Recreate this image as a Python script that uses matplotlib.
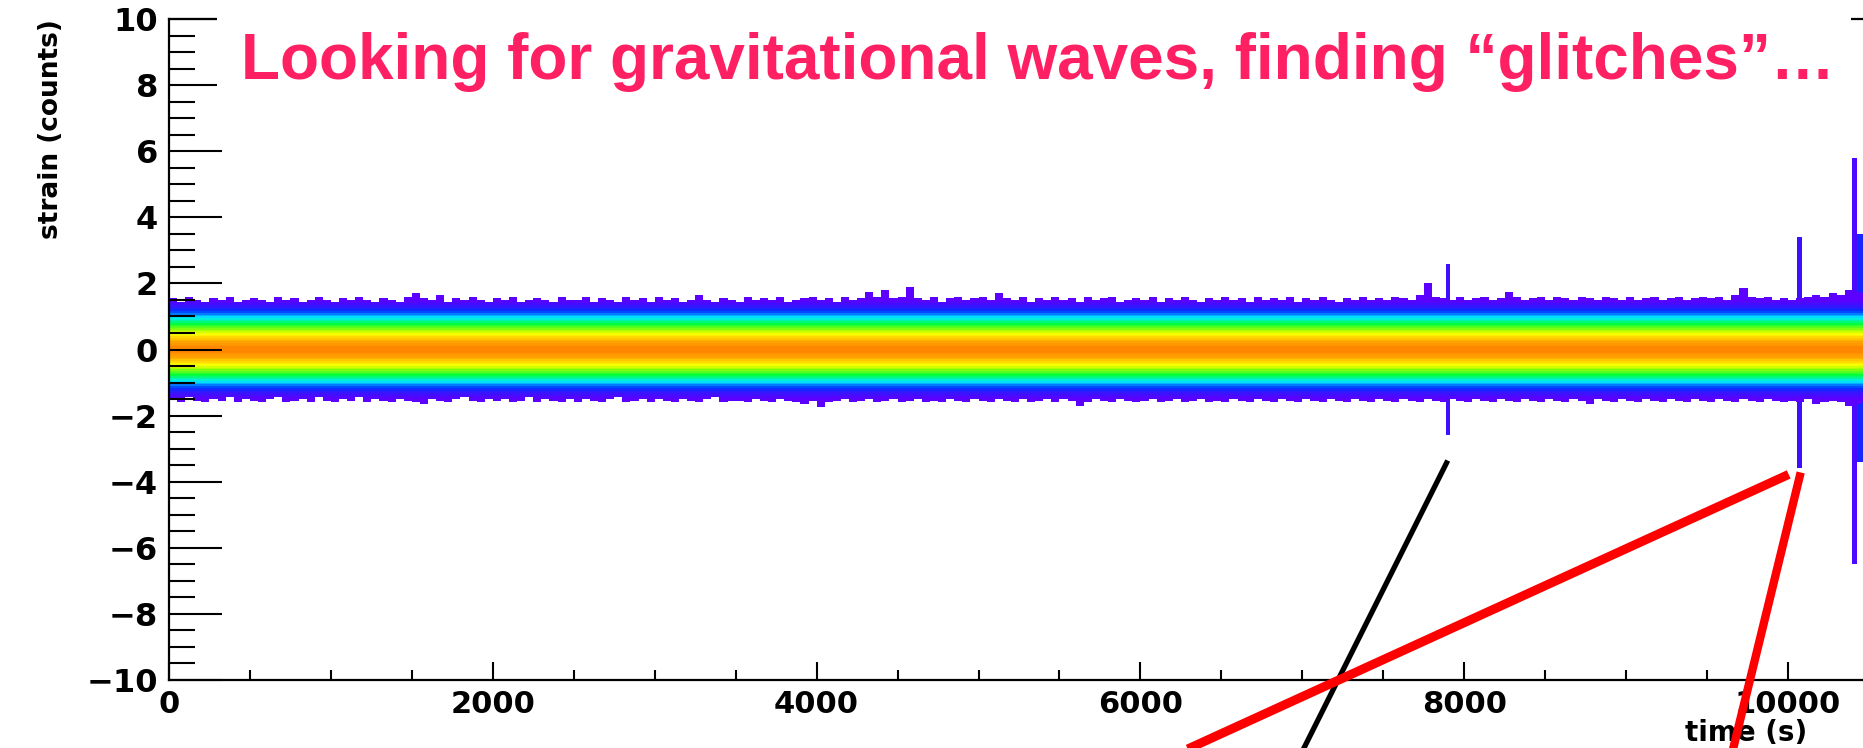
import numpy as np
import matplotlib
matplotlib.use("Agg")
import matplotlib.pyplot as plt
from matplotlib.colors import LinearSegmentedColormap
from matplotlib.patches import Rectangle
from matplotlib.ticker import MultipleLocator

# ---------------- data ----------------
title_text = "Looking for gravitational waves, finding \u201cglitches\u201d\u2026"
x_label = "time (s)"
y_label = "strain (counts)"

# band: 50 s time columns starting at 0 s, strain rows 0.05 wide
column_start = 0
column_width = 50
# |strain| row centre -> colour level (0 = faintest .. 1 = max)
abs_strain_rows = [0.025, 0.075, 0.125, 0.175, 0.225, 0.275, 0.325, 0.375, 0.425, 0.475,
                   0.525, 0.575, 0.625, 0.675, 0.725, 0.775, 0.825, 0.875, 0.925, 0.975,
                   1.025, 1.075, 1.125, 1.175, 1.225, 1.275, 1.325, 1.375, 1.425, 1.475,
                   1.525, 1.575, 1.625, 1.675, 1.725, 1.775, 1.825, 1.875, 1.925, 1.975]
profile_level = [0.86, 0.86, 0.85, 0.84, 0.83, 0.81, 0.78, 0.75, 0.72, 0.69,
                 0.65, 0.61, 0.57, 0.53, 0.49, 0.45, 0.41, 0.37, 0.33, 0.29,
                 0.25, 0.21, 0.17, 0.14, 0.11, 0.08, 0.06, 0.04, 0.02, 0.01,
                 0.0, 0.0, 0.0, 0.0, 0.0, 0.0, 0.0, 0.0, 0.0, 0.0]

# upper / lower envelope of the band for each 50 s column (0 .. 10500 s)
upper_edge = [
    1.55, 1.45, 1.6, 1.5, 1.45, 1.55, 1.5, 1.6, 1.45, 1.5,
    1.55, 1.5, 1.45, 1.6, 1.5, 1.55, 1.45, 1.5, 1.6, 1.5,
    1.45, 1.55, 1.5, 1.6, 1.5, 1.45, 1.55, 1.5, 1.45, 1.6,
    1.7, 1.55, 1.5, 1.65, 1.45, 1.55, 1.5, 1.6, 1.5, 1.45,
    1.55, 1.5, 1.6, 1.45, 1.5, 1.55, 1.5, 1.45, 1.6, 1.5,
    1.5, 1.6, 1.45, 1.55, 1.5, 1.45, 1.6, 1.5, 1.55, 1.45,
    1.6, 1.5, 1.55, 1.45, 1.5, 1.65, 1.5, 1.45, 1.55, 1.5,
    1.45, 1.6, 1.5, 1.55, 1.5, 1.6, 1.45, 1.5, 1.55, 1.6,
    1.5, 1.55, 1.45, 1.6, 1.5, 1.55, 1.75, 1.6, 1.8, 1.55,
    1.6, 1.9, 1.55, 1.5, 1.6, 1.45, 1.55, 1.6, 1.5, 1.55,
    1.6, 1.5, 1.7, 1.55, 1.5, 1.6, 1.45, 1.55, 1.5, 1.6,
    1.5, 1.55, 1.45, 1.6, 1.5, 1.55, 1.6, 1.45, 1.5, 1.55,
    1.5, 1.6, 1.45, 1.55, 1.5, 1.6, 1.5, 1.45, 1.55, 1.5,
    1.6, 1.5, 1.55, 1.45, 1.6, 1.5, 1.55, 1.5, 1.6, 1.45,
    1.55, 1.5, 1.6, 1.5, 1.45, 1.55, 1.5, 1.6, 1.5, 1.55,
    1.5, 1.6, 1.55, 1.5, 1.65, 2.0, 1.6, 1.55, 1.5, 1.6,
    1.5, 1.55, 1.6, 1.5, 1.55, 1.75, 1.6, 1.5, 1.55, 1.6,
    1.5, 1.6, 1.55, 1.5, 1.6, 1.55, 1.5, 1.6, 1.55, 1.5,
    1.6, 1.5, 1.55, 1.6, 1.5, 1.55, 1.6, 1.5, 1.55, 1.6,
    1.55, 1.6, 1.5, 1.65, 1.85, 1.6, 1.55, 1.6, 1.5, 1.55,
    1.5, 1.55, 1.6, 1.65, 1.6, 1.7, 1.65, 1.8, 1.75, 1.7]
lower_edge = [
    -1.5, -1.6, -1.45, -1.55, -1.6, -1.5, -1.55, -1.45, -1.6, -1.5,
    -1.55, -1.6, -1.5, -1.45, -1.6, -1.55, -1.5, -1.6, -1.45, -1.55,
    -1.6, -1.5, -1.55, -1.45, -1.6, -1.5, -1.55, -1.6, -1.5, -1.55,
    -1.6, -1.65, -1.5, -1.55, -1.6, -1.5, -1.45, -1.55, -1.6, -1.5,
    -1.55, -1.5, -1.6, -1.55, -1.45, -1.6, -1.5, -1.55, -1.6, -1.5,
    -1.6, -1.5, -1.55, -1.6, -1.5, -1.45, -1.6, -1.55, -1.5, -1.6,
    -1.5, -1.55, -1.6, -1.5, -1.55, -1.6, -1.5, -1.45, -1.6, -1.55,
    -1.55, -1.6, -1.5, -1.55, -1.6, -1.5, -1.55, -1.6, -1.65, -1.55,
    -1.75, -1.6, -1.55, -1.5, -1.6, -1.55, -1.5, -1.6, -1.55, -1.5,
    -1.6, -1.55, -1.5, -1.6, -1.55, -1.6, -1.5, -1.55, -1.6, -1.5,
    -1.55, -1.6, -1.5, -1.55, -1.6, -1.5, -1.6, -1.55, -1.5, -1.6,
    -1.5, -1.55, -1.7, -1.6, -1.5, -1.55, -1.6, -1.5, -1.55, -1.6,
    -1.55, -1.5, -1.6, -1.55, -1.5, -1.6, -1.55, -1.5, -1.6, -1.55,
    -1.6, -1.5, -1.55, -1.6, -1.5, -1.55, -1.6, -1.5, -1.55, -1.6,
    -1.5, -1.55, -1.6, -1.5, -1.55, -1.6, -1.5, -1.55, -1.6, -1.5,
    -1.55, -1.6, -1.5, -1.55, -1.6, -1.5, -1.55, -1.6, -1.5, -1.55,
    -1.6, -1.5, -1.55, -1.6, -1.5, -1.55, -1.6, -1.5, -1.55, -1.6,
    -1.5, -1.55, -1.6, -1.5, -1.55, -1.65, -1.5, -1.55, -1.6, -1.5,
    -1.55, -1.6, -1.5, -1.55, -1.6, -1.5, -1.55, -1.6, -1.5, -1.55,
    -1.6, -1.5, -1.55, -1.6, -1.5, -1.55, -1.6, -1.5, -1.55, -1.6,
    -1.55, -1.6, -1.5, -1.65, -1.6, -1.55, -1.6, -1.7, -1.65, -1.6]

# glitches: start time (s), width (s), lowest / highest strain, colour level
glitch_start = [7885, 10055, 10395, 10425]
glitch_width = [30, 30, 30, 40]
glitch_low = [-2.65, -3.55, -6.5, -3.4]
glitch_high = [2.6, 3.4, 5.8, 3.45]
glitch_level = [0.05, 0.05, 0.03, 0.12]

# annotation lines (time s, strain) : glitch end -> off the bottom of the frame
black_line_t = [7898, 6965]
black_line_s = [-3.36, -12.5]
red_line1_t = [10004, 6108]
red_line1_s = [-3.78, -12.5]
red_line2_t = [10078, 9640]
red_line2_s = [-3.72, -12.5]

# ---------------- figure ----------------
W, H, DPI = 1863, 748, 100
fig = plt.figure(figsize=(W / DPI, H / DPI), dpi=DPI)
fig.patch.set_facecolor("white")
ax = fig.add_axes([169 / W, 1 - 680 / H, (W - 169) / W, (680 - 19) / H])

cmap = LinearSegmentedColormap.from_list("rootpal", [
    (0.00, (0.36, 0.00, 1.00)),
    (0.15, (0.00, 0.20, 1.00)),
    (0.30, (0.00, 0.92, 1.00)),
    (0.45, (0.00, 1.00, 0.25)),
    (0.60, (0.62, 1.00, 0.00)),
    (0.70, (1.00, 1.00, 0.00)),
    (0.85, (1.00, 0.58, 0.00)),
    (1.00, (1.00, 0.00, 0.00)),
])
cmap.set_bad((1, 1, 1, 0))

row_edges = np.round(np.arange(-2.0, 2.0001, 0.05), 3)
row_centres = 0.5 * (row_edges[:-1] + row_edges[1:])
abs_rows = np.array(abs_strain_rows)
prof = np.array(profile_level)
row_level = np.array([prof[np.argmin(np.abs(abs_rows - abs(c)))] for c in row_centres])

n_cols = len(upper_edge)
col_edges = column_start + column_width * np.arange(n_cols + 1)
up = np.array(upper_edge)
lo = np.array(lower_edge)
inside = (row_centres[:, None] <= up[None, :]) & (row_centres[:, None] >= lo[None, :])
band = np.where(inside, row_level[:, None] * np.ones((1, n_cols)), np.nan)
band = np.ma.masked_invalid(band)

# glitches (drawn beneath the band)
g_rows = np.round(np.arange(-7.0, 7.0001, 0.1), 2)
g_cent = 0.5 * (g_rows[:-1] + g_rows[1:])
for t0, w, gl, gh, lev in zip(glitch_start, glitch_width, glitch_low, glitch_high, glitch_level):
    vals = np.where((g_cent >= gl) & (g_cent <= gh), lev, np.nan)[:, None]
    ax.pcolormesh([t0, t0 + w], g_rows, np.ma.masked_invalid(vals), cmap=cmap,
                  vmin=0, vmax=1, shading="flat", zorder=1)

ax.pcolormesh(col_edges, row_edges, band, cmap=cmap, vmin=0, vmax=1,
              shading="flat", zorder=1.2)

ax.set_xlim(0, 10463)
ax.set_ylim(-10, 10)

for sp in ["left", "bottom", "top"]:
    ax.spines[sp].set_linewidth(1.6)
ax.spines["right"].set_visible(False)

ax.xaxis.set_major_locator(MultipleLocator(2000))
ax.xaxis.set_minor_locator(MultipleLocator(500))
ax.yaxis.set_major_locator(MultipleLocator(2))
ax.yaxis.set_minor_locator(MultipleLocator(0.5))
ax.tick_params(axis="y", which="major", direction="in", length=38, width=1.5,
               pad=8, labelsize=23)
ax.tick_params(axis="y", which="minor", direction="in", length=19, width=1.5)
ax.tick_params(axis="x", which="major", direction="in", length=13, width=1.5,
               pad=7, labelsize=22)
ax.tick_params(axis="x", which="minor", direction="in", length=7, width=1.5)
ax.tick_params(top=False, right=False)
for lab in ax.get_xticklabels() + ax.get_yticklabels():
    lab.set_fontweight("bold")
    lab.set_family("DejaVu Sans")

ax.set_ylabel(y_label, fontsize=19, fontweight="bold", loc="top")
ax.yaxis.set_label_coords(-0.062, 1.0)
ax.set_xlabel(x_label, fontsize=20, fontweight="bold", ha="left", va="baseline")
ax.xaxis.set_label_coords(0.895, -0.0925)

# annotation lines
ax.plot(black_line_t, black_line_s, color="black", lw=3.8, clip_on=False,
        solid_capstyle="butt", zorder=4)
ax.plot(red_line1_t, red_line1_s, color="#FF0000", lw=6.5, clip_on=False,
        solid_capstyle="butt", zorder=4)
ax.plot(red_line2_t, red_line2_s, color="#FF0000", lw=6.0, clip_on=False,
        solid_capstyle="butt", zorder=4)

# white title box covering the top frame, then the title
fig.add_artist(Rectangle((217 / W, 1 - 115 / H), (1851 - 217) / W, 110 / H,
                         transform=fig.transFigure, facecolor="white",
                         edgecolor="none", zorder=5))
fig.text(241 / W, 1 - 79 / H, title_text, fontsize=46, fontweight="bold",
         family=["Liberation Sans", "DejaVu Sans"], color="#FF2063",
         ha="left", va="baseline", zorder=6)

fig.savefig("out.png", dpi=DPI)
